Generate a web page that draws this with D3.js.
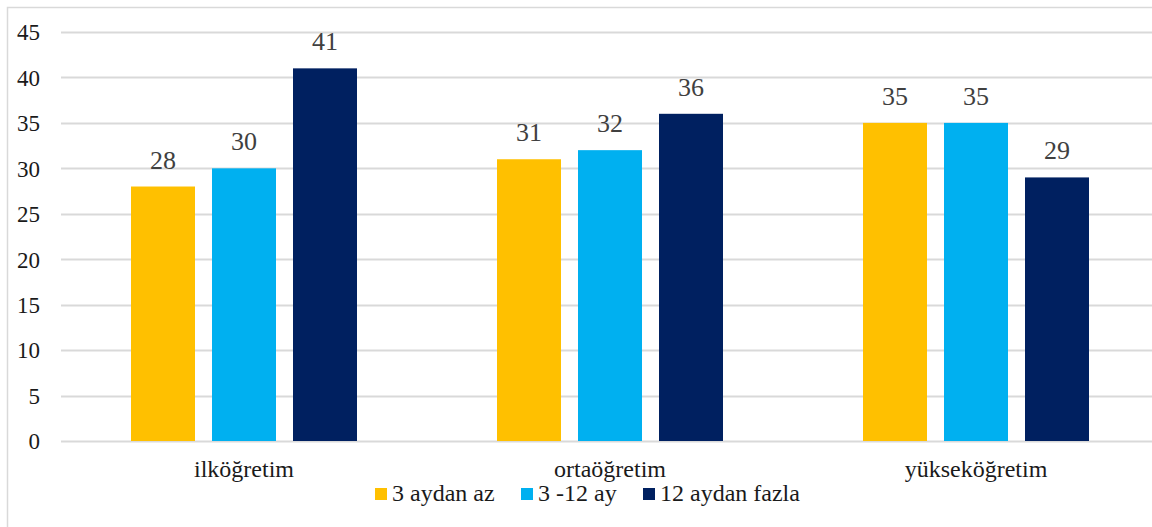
<!DOCTYPE html>
<html>
<head>
<meta charset="utf-8">
<script src="https://cdn.jsdelivr.net/npm/d3@7"></script>
<style>
  body { margin: 0; background: #fff; }
  svg { display: block; }
  text { font-family: 'Liberation Serif', 'Times New Roman', serif; }
</style>
</head>
<body>
<svg id="chart" width="1152" height="527"></svg>
<script>
// chart data
var categories = ["ilköğretim", "ortaöğretim", "yükseköğretim"];
var seriesNames = ["3 aydan az", "3 -12 ay", "12 aydan fazla"];
var seriesColors = ["#FFC000", "#00B0F0", "#002060"];
var values = [
  [28, 31, 35],   // 3 aydan az
  [30, 32, 35],   // 3 -12 ay
  [41, 36, 29]    // 12 aydan fazla
];
var yTicks = [0, 5, 10, 15, 20, 25, 30, 35, 40, 45];

var FONT = "'Liberation Serif', 'Times New Roman', serif";
var svg = d3.select("#chart");

// outer frame (right / bottom edges fall outside the picture)
svg.append("rect")
  .attr("x", 7.5).attr("y", 7.5)
  .attr("width", 1160).attr("height", 540)
  .attr("fill", "none").attr("stroke", "#d9d9d9").attr("stroke-width", 1.5);

var plotL = 61, plotR = 1159, plotT = 32, plotB = 441;

var x0 = d3.scaleBand().domain(categories).range([plotL, plotR]).paddingInner(0).paddingOuter(0);
var y = d3.scaleLinear().domain([0, 45]).range([plotB, plotT]);

// grid
svg.append("g").selectAll("line").data(yTicks).enter().append("line")
  .attr("x1", plotL).attr("x2", plotR)
  .attr("y1", function(d){ return Math.round(y(d)) + 0.5; })
  .attr("y2", function(d){ return Math.round(y(d)) + 0.5; })
  .attr("stroke", "#d9d9d9").attr("stroke-width", 2);

// y axis labels
var yAxis = d3.axisLeft(y).tickValues(yTicks).tickSize(0).tickPadding(0);
var ya = svg.append("g").attr("transform", "translate(40,0)").call(yAxis);
ya.select(".domain").remove();
ya.selectAll("text")
  .style("font-family", FONT)
  .attr("font-size", 23).attr("fill", "#1a1a1a").attr("dy", "0.34em");

// bars
var barW = 64, gap = 17;
var groupW = barW * 3 + gap * 2;
var x1 = d3.scaleBand().domain(d3.range(3)).range([0, groupW]).paddingInner(gap / (barW + gap));

var groups = svg.append("g").selectAll("g").data(categories).enter().append("g")
  .attr("transform", function(c){ return "translate(" + (x0(c) + x0.bandwidth() / 2 - groupW / 2) + ",0)"; });

groups.selectAll("rect")
  .data(function(c, ci){ return values.map(function(s, si){ return {si: si, v: s[ci]}; }); })
  .enter().append("rect")
  .attr("x", function(d){ return x1(d.si); })
  .attr("width", x1.bandwidth())
  .attr("y", function(d){ return y(d.v); })
  .attr("height", function(d){ return plotB - y(d.v); })
  .attr("fill", function(d){ return seriesColors[d.si]; });

groups.selectAll("text")
  .data(function(c, ci){ return values.map(function(s, si){ return {si: si, v: s[ci]}; }); })
  .enter().append("text")
  .attr("x", function(d){ return x1(d.si) + x1.bandwidth() / 2; })
  .attr("y", function(d){ return y(d.v) - 18; })
  .attr("text-anchor", "middle")
  .style("font-family", FONT)
  .attr("font-size", 26).attr("fill", "#404040")
  .text(function(d){ return d.v; });

// category labels
svg.append("g").selectAll("text").data(categories).enter().append("text")
  .attr("x", function(c){ return x0(c) + x0.bandwidth() / 2; })
  .attr("y", 477)
  .attr("text-anchor", "middle")
  .style("font-family", FONT)
  .attr("font-size", 24).attr("fill", "#1a1a1a")
  .text(function(c){ return c; });

// legend
var legX = [375, 521, 643];
var leg = svg.append("g").selectAll("g").data(seriesNames).enter().append("g")
  .attr("transform", function(d, i){ return "translate(" + legX[i] + ",488)"; });
leg.append("rect").attr("width", 12).attr("height", 12)
  .attr("fill", function(d, i){ return seriesColors[i]; });
leg.append("text").attr("x", 17).attr("y", 12.5)
  .style("font-family", FONT)
  .attr("font-size", 24).attr("fill", "#1a1a1a")
  .text(function(d){ return d; });
</script>
</body>
</html>
